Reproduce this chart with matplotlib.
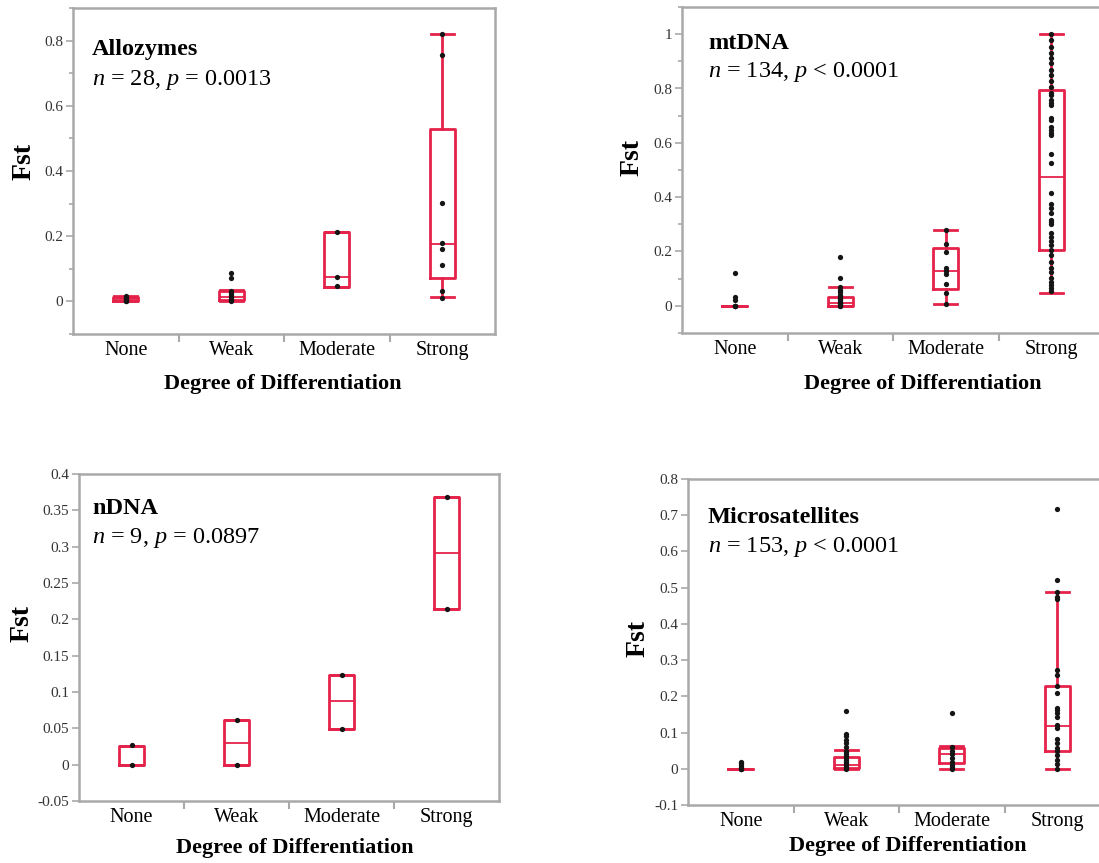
import matplotlib
matplotlib.use("Agg")
import matplotlib.pyplot as plt
from matplotlib.ticker import MultipleLocator, FuncFormatter

plt.rcParams['font.family'] = 'Liberation Serif'
plt.rcParams['mathtext.fontset'] = 'custom'
plt.rcParams['mathtext.rm'] = 'Liberation Serif'
plt.rcParams['mathtext.it'] = 'Liberation Serif:italic'

W, H = 1099, 863
RED = '#e5224a'
FRAME = '#a9a9a9'

categories = ['None', 'Weak', 'Moderate', 'Strong']

# ---- Allozymes ----
allo_q1 = [0.002, 0.003, 0.045, 0.072]
allo_med = [0.008, 0.015, 0.076, 0.176]
allo_q3 = [0.015, 0.033, 0.214, 0.528]
allo_lo = [0.0, 0.0, 0.045, 0.012]
allo_hi = [0.018, 0.036, 0.214, 0.821]
allo_pts = [
    [0.0, 0.002, 0.005, 0.008, 0.01, 0.013, 0.017],
    [0.0, 0.003, 0.008, 0.012, 0.015, 0.02, 0.025, 0.033, 0.073, 0.088],
    [0.046, 0.076, 0.214],
    [0.010, 0.031, 0.111, 0.162, 0.178, 0.301, 0.755, 0.821],
]

# ---- mtDNA ----
mt_q1 = [0.0, 0.0, 0.063, 0.204]
mt_med = [0.0, 0.012, 0.129, 0.474]
mt_q3 = [0.0, 0.031, 0.214, 0.795]
mt_lo = [0.0, 0.0, 0.007, 0.047]
mt_hi = [0.0, 0.069, 0.28, 1.0]
mt_pts = [
    [0.0, 0.0, 0.0, 0.0, 0.022, 0.031, 0.12],
    [0.0, 0.0, 0.005, 0.01, 0.012, 0.015, 0.02, 0.025, 0.03, 0.035, 0.04,
     0.05, 0.06, 0.069, 0.103, 0.178],
    [0.007, 0.047, 0.081, 0.118, 0.13, 0.141, 0.199, 0.227, 0.28],
    [1.0, 0.979, 0.954, 0.930, 0.912, 0.893, 0.869, 0.850, 0.826, 0.807,
     0.785, 0.777, 0.758, 0.746, 0.740, 0.691, 0.685, 0.658, 0.648, 0.638,
     0.629, 0.558, 0.525, 0.417, 0.375, 0.359, 0.343, 0.317, 0.310, 0.302,
     0.268, 0.253, 0.237, 0.225, 0.206, 0.188, 0.163, 0.139, 0.126, 0.102,
     0.089, 0.077, 0.065, 0.053],
]

# ---- nDNA ----
nd_q1 = [0.0, 0.0, 0.049, 0.214]
nd_med = [0.0, 0.030, 0.087, 0.291]
nd_q3 = [0.026, 0.061, 0.124, 0.368]
nd_lo = [0.0, 0.0, 0.049, 0.214]
nd_hi = [0.026, 0.061, 0.124, 0.368]
nd_pts = [
    [-0.001, 0.027],
    [0.0, 0.061],
    [0.049, 0.124],
    [0.214, 0.368],
]

# ---- Microsatellites ----
ms_q1 = [0.0, 0.002, 0.015, 0.048]
ms_med = [0.0, 0.010, 0.042, 0.117]
ms_q3 = [0.0, 0.032, 0.057, 0.229]
ms_lo = [0.0, 0.0, 0.0, 0.0]
ms_hi = [0.0, 0.053, 0.063, 0.488]
ms_pts = [
    [0.0, 0.0, 0.0, 0.005, 0.01, 0.015, 0.018],
    [0.0, 0.003, 0.006, 0.01, 0.015, 0.02, 0.025, 0.03, 0.035, 0.04, 0.045,
     0.05, 0.06, 0.07, 0.08, 0.09, 0.096, 0.16],
    [0.0, 0.005, 0.01, 0.02, 0.03, 0.04, 0.05, 0.06, 0.153],
    [0.0, 0.014, 0.025, 0.039, 0.048, 0.057, 0.071, 0.082, 0.112, 0.121,
     0.144, 0.154, 0.161, 0.167, 0.209, 0.229, 0.259, 0.273, 0.468, 0.475,
     0.488, 0.52, 0.716],
]

panels = [
    dict(box=(73, 334, 422, 326), q1=allo_q1, med=allo_med, q3=allo_q3,
         lo=allo_lo, hi=allo_hi, pts=allo_pts, ylim=(-0.1, 0.9), major=0.2,
         minor=0.1, name='Allozymes', stat=r'$n$ = 28, $p$ = 0.0013',
         tx=0.045, ty=(0.856, 0.764), fst=(24, 161), xl=(283, 384)),
    dict(box=(682, 333, 422, 326), q1=mt_q1, med=mt_med, q3=mt_q3,
         lo=mt_lo, hi=mt_hi, pts=mt_pts, ylim=(-0.1, 1.1), major=0.2,
         minor=0.1, name='mtDNA', stat=r'$n$ = 134, $p$ < 0.0001',
         tx=0.062, ty=(0.871, 0.785), fst=(632, 157), xl=(923, 384)),
    dict(box=(79, 801, 420, 327), q1=nd_q1, med=nd_med, q3=nd_q3,
         lo=nd_lo, hi=nd_hi, pts=nd_pts, ylim=(-0.05, 0.4), major=0.05,
         minor=None, name='nDNA', stat=r'$n$ = 9, $p$ = 0.0897',
         tx=0.031, ty=(0.878, 0.789), fst=(22, 623), xl=(295, 848)),
    dict(box=(688, 805, 422, 326), q1=ms_q1, med=ms_med, q3=ms_q3,
         lo=ms_lo, hi=ms_hi, pts=ms_pts, ylim=(-0.1, 0.8), major=0.1,
         minor=None, name='Microsatellites', stat=r'$n$ = 153, $p$ < 0.0001',
         tx=0.047, ty=(0.865, 0.776), fst=(638, 638), xl=(908, 846)),
]

fig = plt.figure(figsize=(W / 100, H / 100), dpi=100)

for p in panels:
    left, bottom, w, h = p['box']
    ax = fig.add_axes([left / W, 1 - bottom / H, w / W, h / H])

    stats = []
    for i in range(4):
        stats.append(dict(q1=p['q1'][i], med=p['med'][i], q3=p['q3'][i],
                          whislo=p['lo'][i], whishi=p['hi'][i], fliers=[]))
    ax.bxp(stats, positions=[1, 2, 3, 4], widths=0.24, capwidths=0.22,
           showfliers=False,
           boxprops=dict(color=RED, lw=2),
           medianprops=dict(color=RED, lw=1.3),
           whiskerprops=dict(color=RED, lw=2),
           capprops=dict(color=RED, lw=2))

    for i, vals in enumerate(p['pts']):
        ax.plot([i + 1] * len(vals), vals, 'o', ms=3.8, color='#151515',
                mec='none', zorder=5)

    ax.set_xlim(0.5, 4.5)
    ax.set_ylim(*p['ylim'])

    # x: labels at centres, ticks at category boundaries
    ax.set_xticks([1, 2, 3, 4])
    ax.set_xticklabels(categories, fontsize=14.5)
    ax.set_xticks([1.5, 2.5, 3.5], minor=True)
    ax.tick_params(axis='x', which='major', length=0, pad=5)
    ax.tick_params(axis='x', which='minor', length=6, width=1.5, color=FRAME)

    ax.yaxis.set_major_locator(MultipleLocator(p['major']))
    if p['minor']:
        ax.yaxis.set_minor_locator(MultipleLocator(p['minor']))
    ax.yaxis.set_major_formatter(FuncFormatter(lambda v, pos: f'{round(v, 3):g}'))
    ax.tick_params(axis='y', which='major', length=5, width=1.2, color=FRAME,
                   labelsize=11, labelcolor='#333333', pad=2)
    ax.tick_params(axis='y', which='minor', length=3, width=1.2, color=FRAME)

    for s in ax.spines.values():
        s.set_color(FRAME)
        s.set_linewidth(1.8)

    ax.text(p['tx'], p['ty'][0], p['name'], transform=ax.transAxes,
            fontsize=17.5, fontweight='bold', va='baseline')
    ax.text(p['tx'], p['ty'][1], p['stat'], transform=ax.transAxes,
            fontsize=17.5, va='baseline')

    fig.text(p['fst'][0] / W, 1 - p['fst'][1] / H, 'Fst', rotation=90,
             ha='center', va='center', fontsize=20, fontweight='bold')
    fig.text(p['xl'][0] / W, 1 - p['xl'][1] / H, 'Degree of Differentiation',
             ha='center', va='center', fontsize=16, fontweight='bold')

fig.savefig('out.png', dpi=100)
